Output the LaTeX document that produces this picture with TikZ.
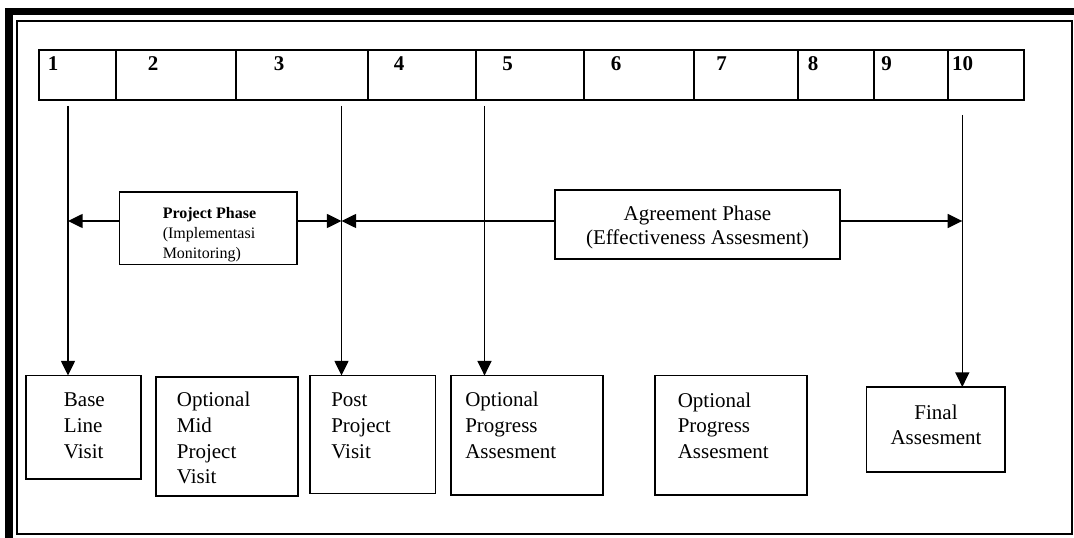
\documentclass[tikz,border=0pt]{standalone}
\usepackage{fontspec}
\setmainfont{Liberation Serif}
\usetikzlibrary{arrows.meta}
\newcommand\mkbox[6]{\node[#6,minimum width={(#4-#2)*0.75pt},minimum height={(#5-#3)*0.75pt},anchor=north west] (#1) at (#2,#3) {};}
\tikzset{
  boxst/.style={draw,line width=1.3pt,inner sep=0pt,outer sep=0pt},
  cellst/.style={draw,line width=1.5pt,inner sep=0pt,outer sep=0pt},
  num/.style={anchor=base,inner sep=0pt,font=\fontsize{15.75}{18}\selectfont\bfseries},
  btxt/.style={inner sep=0pt,align=left,font=\fontsize{15.75}{19.35}\selectfont},
  conn/.style={line width=1.1pt},
  arr/.style={line width=1.1pt,-{Triangle[length=11pt,width=10.5pt]}}
}
\begin{document}
\begin{tikzpicture}[x=0.75pt,y=-0.75pt]
\useasboundingbox (0,0) rectangle (1074,538);
% frame
\fill (5,8.3) rectangle (1074,15);
\fill (5,8.3) rectangle (12.7,538);
\draw[line width=1.5pt] (16.5,21) rectangle (1072,533.5);
% timeline cells
\mkbox{c1}{38.6}{50}{116}{100}{cellst}
\mkbox{c2}{116}{50}{236}{100}{cellst}
\mkbox{c3}{236}{50}{368}{100}{cellst}
\mkbox{c4}{368}{50}{476}{100}{cellst}
\mkbox{c5}{476}{50}{584}{100}{cellst}
\mkbox{c6}{584}{50}{694}{100}{cellst}
\mkbox{c7}{694}{50}{798}{100}{cellst}
\mkbox{c8}{798}{50}{873.5}{100}{cellst}
\mkbox{c9}{873.5}{50}{948}{100}{cellst}
\mkbox{c10}{948}{50}{1024}{100}{cellst}
\node[num] (n1) at (53,71) {1};
\node[num] (n2) at (153,71) {2};
\node[num] (n3) at (279,71) {3};
\node[num] (n4) at (399,71) {4};
\node[num] (n5) at (507.5,71) {5};
\node[num] (n6) at (616,71) {6};
\node[num] (n7) at (721.5,71) {7};
\node[num] (n8) at (813,71) {8};
\node[num] (n9) at (886.5,71) {9};
\node[num] (n10) at (962.5,71) {10};
% bottom boxes
\mkbox{bl}{25.8}{375.5}{141}{478.8}{boxst}
\mkbox{om}{156}{377}{298}{496}{boxst}
\mkbox{pv}{310}{375.5}{435.6}{493.6}{boxst}
\mkbox{opa}{451}{375.6}{603}{495}{boxst}
\mkbox{opb}{655}{375.6}{807}{495.3}{boxst}
\mkbox{fa}{866.6}{387}{1005}{471.7}{boxst}
% (base anchor = baseline of the last line)
\node[btxt,anchor=base west] (tbl) at (63.7,458.1) {Base\\Line\\Visit};
\node[btxt,anchor=base west] (tom) at (176.6,483.9) {Optional\\Mid\\Project\\Visit};
\node[btxt,anchor=base west] (tpv) at (331,458.1) {Post\\Project\\Visit};
\node[btxt,anchor=base west] (topa) at (465,458.1) {Optional\\Progress\\Assesment};
\node[btxt,anchor=base west] (topb) at (677.5,458.6) {Optional\\Progress\\Assesment};
\node[btxt,anchor=base,align=center] (tfa) at (936,444.8) {Final\\Assesment};
% phase boxes
\mkbox{pp}{119.6}{192}{297}{264.6}{boxst}
\mkbox{ap}{555}{190}{840}{259}{boxst}
\node[inner sep=0pt,align=left,anchor=base west,font=\fontsize{12}{15}\selectfont] (tpp) at (162.5,259) {\textbf{Project Phase}\\(Implementasi\\Monitoring)};
\node[inner sep=0pt,align=center,anchor=base,font=\fontsize{15.75}{18}\selectfont] (tap) at (697.5,245) {Agreement Phase\\(Effectiveness Assesment)};
% connectors
\coordinate (v1) at (68,106);
\coordinate (v3) at (341.5,106);
\coordinate (v5) at (484.5,106);
\coordinate (v10) at (962.3,115);
\coordinate (hy) at (0,221);
\draw[arr] (v1) -- (v1 |- bl.north);
\draw[arr] (v3) -- (v3 |- pv.north);
\draw[arr] (v5) -- (v5 |- opa.north);
\draw[arr] (v10) -- (v10 |- fa.north);
\draw[arr] (pp.west |- hy) -- (v1 |- hy);
\draw[arr] (pp.east |- hy) -- (v3 |- hy);
\draw[arr] (ap.west |- hy) -- (v3 |- hy);
\draw[arr] (ap.east |- hy) -- (v10 |- hy);
\end{tikzpicture}
\end{document}
